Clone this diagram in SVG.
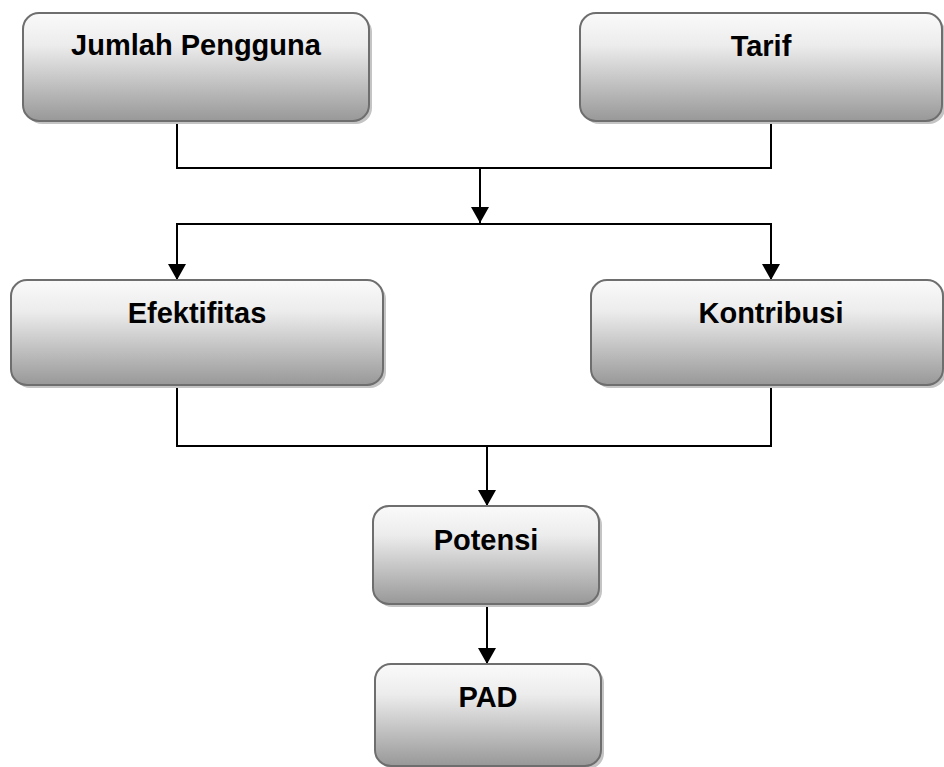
<svg xmlns="http://www.w3.org/2000/svg" width="944" height="767" viewBox="0 0 944 767">
<defs>
<linearGradient id="g" x1="0" y1="0" x2="0" y2="1">
<stop offset="0" stop-color="#fafafa"/>
<stop offset="0.3" stop-color="#ececec"/>
<stop offset="1" stop-color="#989898"/>
</linearGradient>
<marker id="arr" markerUnits="userSpaceOnUse" markerWidth="20" markerHeight="20" refX="16" refY="9" orient="auto">
<path d="M0,0 L16,9 L0,18 Z" fill="#000"/>
</marker>
<style>
.sh{fill:#c4c4c4;}
.bx{fill:url(#g);stroke:#6e6e6e;stroke-width:2;}
.t{font-family:"Liberation Sans",Arial,sans-serif;font-weight:bold;font-size:29px;fill:#000;text-anchor:middle;}
.c{fill:none;stroke:#000;stroke-width:2;}
</style>
</defs>
<rect width="944" height="767" fill="#fff"/>
<g id="connectors">
<path class="c" d="M177,121 V168 H771 V121"/>
<path class="c" d="M480,168 V223" marker-end="url(#arr)"/>
<path class="c" d="M480,224 H177 V280" marker-end="url(#arr)"/>
<path class="c" d="M480,224 H771 V280" marker-end="url(#arr)"/>
<path class="c" d="M177,385 V446 H771 V385"/>
<path class="c" d="M487,446 V506" marker-end="url(#arr)"/>
<path class="c" d="M487,604 V664" marker-end="url(#arr)"/>
</g>
<g id="jumlah">
<rect class="sh" x="26" y="16" width="346" height="108" rx="16"/>
<rect class="bx" x="23" y="13" width="346" height="108" rx="16"/>
<text class="t" x="196" y="55">Jumlah Pengguna</text>
</g>
<g id="tarif">
<rect class="sh" x="583" y="16" width="362" height="108" rx="16"/>
<rect class="bx" x="580" y="13" width="362" height="108" rx="16"/>
<text class="t" x="761" y="56">Tarif</text>
</g>
<g id="efektifitas">
<rect class="sh" x="14" y="283" width="372" height="105" rx="16"/>
<rect class="bx" x="11" y="280" width="372" height="105" rx="16"/>
<text class="t" x="197" y="323">Efektifitas</text>
</g>
<g id="kontribusi">
<rect class="sh" x="594" y="283" width="352" height="105" rx="16"/>
<rect class="bx" x="591" y="280" width="352" height="105" rx="16"/>
<text class="t" x="771" y="323">Kontribusi</text>
</g>
<g id="potensi">
<rect class="sh" x="376" y="509" width="226" height="98" rx="16"/>
<rect class="bx" x="373" y="506" width="226" height="98" rx="16"/>
<text class="t" x="486" y="550">Potensi</text>
</g>
<g id="pad">
<rect class="sh" x="378" y="667" width="226" height="102" rx="16"/>
<rect class="bx" x="375" y="664" width="226" height="102" rx="16"/>
<text class="t" x="488" y="707">PAD</text>
</g>
</svg>
